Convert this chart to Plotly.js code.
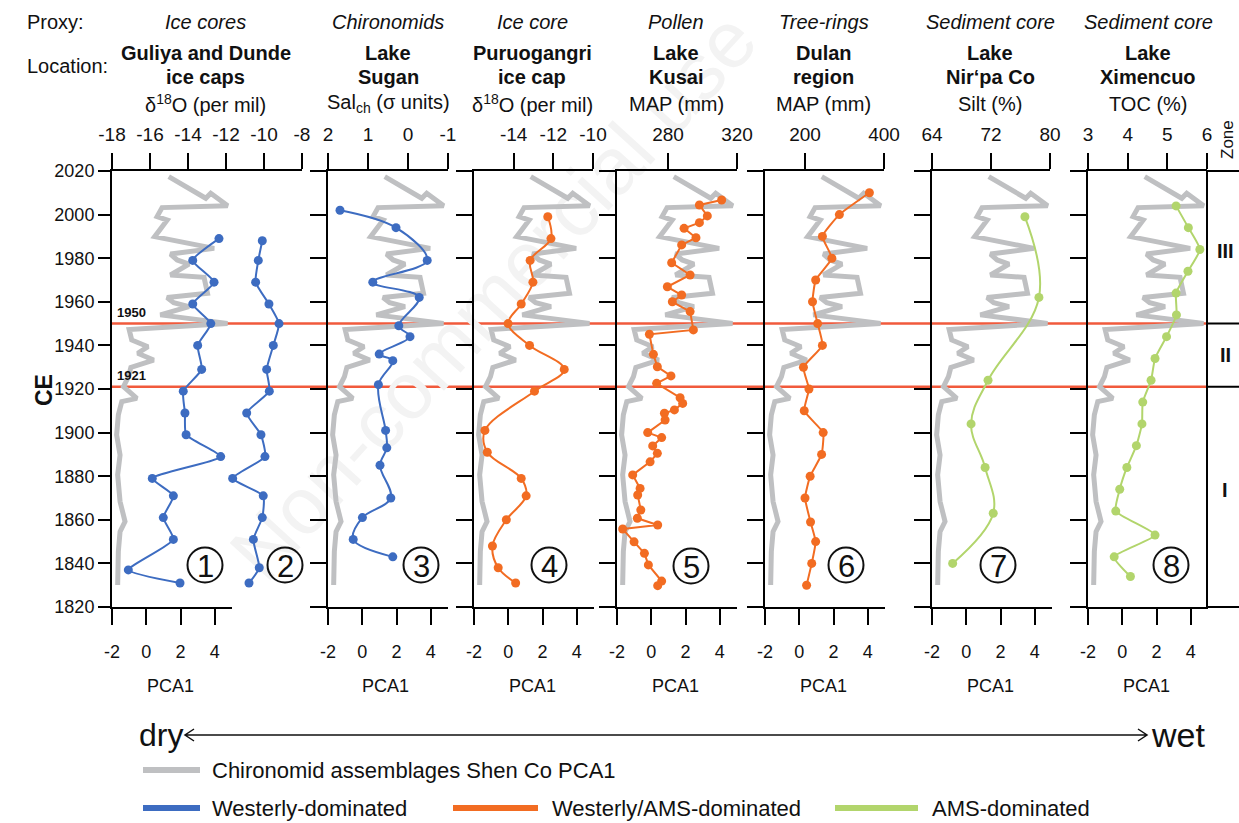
<!DOCTYPE html>
<html>
<head>
<meta charset="utf-8">
<script src="https://cdn.plot.ly/plotly-3.0.1.min.js"></script>
<style>html,body{margin:0;padding:0;background:#fff}#chart{width:1239px;height:823px}</style>
</head>
<body>
<div id="chart"></div>
<script>
// ---------------- DATA ----------------
const shenCoYear = [2017.4, 2010.5, 2007.5, 2009.8, 2004.1, 2003.2, 1999.1, 1997.5, 1989.9, 1984.5, 1981.9, 1979.2, 1977.3, 1972.3, 1971.2, 1963.9, 1962.0, 1959.6, 1957.8, 1954.0, 1952.0, 1950.1, 1947.3, 1942.5, 1939.4, 1936.4, 1933.3, 1929.9, 1925.7, 1921.1, 1915.7, 1914.2, 1908.1, 1898.9, 1889.7, 1880.6, 1868.4, 1859.2, 1854.6, 1845.4, 1830.1];
const shenCoPCA1 = [1.31, 2.88, 3.47, 3.76, 4.75, 0.92, 0.63, 1.22, 0.49, 3.96, 1.41, 1.8, 2.49, 1.41, 3.37, 3.57, 1.21, 1.6, 2.49, 0.82, 2.59, 4.74, -1.0, -0.85, 0.1, -0.5, 0.43, -0.9, -1.04, -1.33, -0.55, -1.43, -1.63, -1.73, -1.53, -1.67, -1.53, -1.24, -1.53, -1.63, -1.67];

const guliyaYear = [1989, 1979, 1969, 1959, 1950, 1940, 1929, 1919, 1909, 1899, 1889, 1879, 1871, 1861, 1851, 1837, 1831];
const guliyaD18O = [-12.37, -13.75, -12.63, -13.75, -12.8, -13.49, -13.28, -14.25, -14.16, -14.1, -12.28, -15.88, -14.77, -15.3, -14.77, -17.14, -14.42];

const dundeYear = [1988, 1979, 1969, 1959, 1950, 1940, 1929, 1919, 1909, 1899, 1889, 1879, 1871, 1861, 1851, 1838, 1831];
const dundeD18O = [-10.09, -10.3, -10.44, -9.74, -9.21, -9.51, -9.86, -9.72, -10.91, -10.16, -9.95, -11.65, -10.04, -10.09, -10.56, -10.25, -10.79];

const suganYear = [2002, 1994, 1979, 1969, 1962, 1949, 1944, 1936, 1933, 1922, 1901, 1893, 1885, 1870, 1861, 1851, 1843];
const suganSal = [1.7, 0.3, -0.48, 0.88, -0.28, 0.23, -0.05, 0.72, 0.38, 0.74, 0.56, 0.53, 0.7, 0.43, 1.14, 1.37, 0.38];

const puruYear = [1999, 1989, 1979, 1969, 1959, 1950, 1940, 1929, 1919, 1901, 1891, 1879, 1871, 1860, 1848, 1838, 1831];
const puruD18O = [-12.28, -12.12, -13.17, -13.03, -13.62, -14.28, -13.2, -11.45, -12.95, -15.45, -15.33, -13.62, -13.37, -14.37, -15.07, -14.78, -13.9];

const kusaiYear = [2006.7, 2004.4, 1999.4, 1996.3, 1993.7, 1989.4, 1986.1, 1977.9, 1972.3, 1966.9, 1963.1, 1960.0, 1955.5, 1947.1, 1945.1, 1935.9, 1930.2, 1926.0, 1922.6, 1916.0, 1913.4, 1910.4, 1908.9, 1905.8, 1900.0, 1897.7, 1893.9, 1890.5, 1886.6, 1880.6, 1874.4, 1871.4, 1864.5, 1860.7, 1857.6, 1855.8, 1849.9, 1844.6, 1839.3, 1831.9, 1829.8];
const kusaiMAP = [311.1, 298.2, 302.8, 298.2, 289.3, 296.2, 287.9, 282.1, 292.8, 279.6, 287.9, 282.5, 292.8, 294.7, 269.2, 271.5, 273.8, 281.7, 273.4, 287.0, 288.5, 283.7, 277.9, 278.3, 268.2, 276.3, 271.1, 273.8, 269.6, 259.5, 263.8, 262.4, 264.2, 262.2, 274.0, 253.7, 260.3, 266.3, 268.6, 276.3, 274.0];

const dulanYear = [2010, 2000, 1990, 1980, 1970, 1960, 1950, 1940, 1930, 1920, 1910, 1900, 1890, 1880, 1870, 1859, 1850, 1840, 1830];
const dulanMAP = [363, 287, 244, 268, 227, 219, 232, 244, 196, 210, 198, 246, 242, 213, 200, 214, 227, 217, 204];

const nirpaYear = [1999, 1962, 1924, 1904, 1884, 1863, 1840];
const nirpaSilt = [76.6, 78.5, 71.6, 69.3, 71.2, 72.3, 66.8];

const ximenYear = [2004, 1994, 1984, 1974, 1964, 1954, 1944, 1934, 1924, 1914, 1904, 1894, 1884, 1874, 1864, 1853, 1843, 1834];
const ximenTOC = [5.22, 5.53, 5.82, 5.52, 5.22, 5.23, 4.98, 4.69, 4.59, 4.38, 4.36, 4.22, 3.98, 3.8, 3.7, 4.69, 3.66, 4.07];

const yearTicks = [1820, 1840, 1860, 1880, 1900, 1920, 1940, 1960, 1980, 2000, 2020];
const pcaTicks = [-2, 0, 2, 4];
const zoneBounds = [1950, 1921];

// ---------------- LAYOUT HELPERS ----------------
const W = 1239, H = 823;
const fx = p => p / W;
const fy = p => 1 - p / H;
const FONT = 'Liberation Sans, Arial, Helvetica, sans-serif';
const BLUE = '#3d6cc1', ORANGE = '#f26c22', GREEN = '#b2d56c', GRAY = '#bfc0c2', RED = '#f15a3c';
const Y_TOP = 171, Y_BOT = 607;

const panels = [
  {left: 112, topW: 190, topRange: [-18, -8], topTicks: [-18, -16, -14, -12, -10, -8], color: BLUE, smooth: 0.5,
   series: [[guliyaD18O, guliyaYear], [dundeD18O, dundeYear]],
   proxy: 'Ice cores', loc: ['Guliya and Dunde', 'ice caps'], unit: 'δ<sup>18</sup>O (per mil)', hx: 206},
  {left: 328, topW: 120, topRange: [2, -1], topTicks: [2, 1, 0, -1], color: BLUE, smooth: 1.0,
   series: [[suganSal, suganYear]],
   proxy: 'Chironomids', loc: ['Lake', 'Sugan'], unit: 'Sal<sub>ch</sub> (σ units)', hx: 388},
  {left: 474, topW: 119, topRange: [-16, -10], topTicks: [-14, -12, -10], color: ORANGE, smooth: 1.0,
   series: [[puruD18O, puruYear]],
   proxy: 'Ice core', loc: ['Puruogangri', 'ice cap'], unit: 'δ<sup>18</sup>O (per mil)', hx: 532},
  {left: 617, topW: 120, topRange: [250.4, 320], topTicks: [280, 320], color: ORANGE, smooth: 0,
   series: [[kusaiMAP, kusaiYear]],
   proxy: 'Pollen', loc: ['Lake', 'Kusai'], unit: 'MAP (mm)', hx: 676},
  {left: 765, topW: 119, topRange: [98.7, 400], topTicks: [200, 400], color: ORANGE, smooth: 0.4,
   series: [[dulanMAP, dulanYear]],
   proxy: 'Tree-rings', loc: ['Dulan', 'region'], unit: 'MAP (mm)', hx: 824},
  {left: 932, topW: 118, topRange: [64, 80], topTicks: [64, 72, 80], color: GREEN, smooth: 1.1,
   series: [[nirpaSilt, nirpaYear]],
   proxy: 'Sediment core', loc: ['Lake', 'Nir‘pa Co'], unit: 'Silt (%)', hx: 990},
  {left: 1088, topW: 119, topRange: [3, 6], topTicks: [3, 4, 5, 6], color: GREEN, smooth: 0.5,
   series: [[ximenTOC, ximenYear]],
   proxy: 'Sediment core', loc: ['Lake', 'Ximencuo'], unit: 'TOC (%)', hx: 1148}
];
const digitPos = [[205, 565], [285, 565], [421, 565], [549, 565], [691, 566], [846, 565], [998, 565], [1171, 565]];
const digits = ['1', '2', '3', '4', '5', '6', '7', '8'];

const traces = [];
const layout = {
  width: W, height: H,
  margin: {l: 0, r: 0, t: 0, b: 0},
  paper_bgcolor: '#ffffff', plot_bgcolor: 'rgba(0,0,0,0)',
  showlegend: false,
  font: {family: FONT, color: '#111', size: 18},
  shapes: [], annotations: []
};

function ann(x, y, text, o) {
  return Object.assign({xref: 'paper', yref: 'paper', x: fx(x), y: fy(y), text: text, showarrow: false,
    xanchor: 'center', yanchor: 'middle', font: {family: FONT, size: 20, color: '#111'}}, o || {});
}

panels.forEach((p, i) => {
  const yName = i === 0 ? 'yaxis' : 'yaxis' + (i + 1);
  const yId = i === 0 ? 'y' : 'y' + (i + 1);
  const xbN = 2 * i + 1, xtN = 2 * i + 2;
  const xbName = xbN === 1 ? 'xaxis' : 'xaxis' + xbN;
  const xbId = xbN === 1 ? 'x' : 'x' + xbN;
  const xtName = 'xaxis' + xtN, xtId = 'x' + xtN;

  layout[yName] = {
    domain: [fy(Y_BOT), fy(Y_TOP)], range: [1820, 2020], anchor: xbId, side: 'left',
    showline: true, linecolor: '#000', linewidth: 2, ticks: 'outside', ticklen: i === 0 ? 12 : 16, tickwidth: 2, tickcolor: '#000',
    tickvals: yearTicks, showticklabels: i === 0, tickfont: {size: 18, family: FONT, color: '#111'},
    ticklabelstandoff: 0,
    showgrid: false, zeroline: false, fixedrange: true
  };
  layout[xbName] = {
    domain: [fx(p.left), fx(p.left + 120)], range: [-2, 5], anchor: yId, side: 'bottom',
    showline: true, linecolor: '#000', linewidth: 2, ticks: 'outside', ticklen: 16, tickwidth: 2, tickcolor: '#000',
    tickvals: pcaTicks, ticktext: pcaTicks.map(String), tickfont: {size: 18, family: FONT, color: '#111'},
    ticklabelstandoff: 11, showgrid: false, zeroline: false, fixedrange: true
  };
  layout[xtName] = {
    domain: [fx(p.left), fx(p.left + p.topW)], range: p.topRange, anchor: yId, side: 'top',
    showline: true, linecolor: '#000', linewidth: 2, ticks: 'outside', ticklen: 16, tickwidth: 2, tickcolor: '#000',
    tickvals: p.topTicks, ticktext: p.topTicks.map(String), tickfont: {size: 19, family: FONT, color: '#111'},
    ticklabelstandoff: 4, showgrid: false, zeroline: false, fixedrange: true
  };

  traces.push({x: shenCoPCA1, y: shenCoYear, xaxis: xbId, yaxis: yId, mode: 'lines',
    line: {color: GRAY, width: 5}, hoverinfo: 'skip'});
  p.series.forEach(s => {
    traces.push({x: s[0], y: s[1], xaxis: xtId, yaxis: yId, mode: 'lines+markers',
      line: {color: p.color, width: 2, shape: p.smooth > 0 ? 'spline' : 'linear', smoothing: p.smooth || undefined},
      marker: {color: p.color, size: 9}, cliponaxis: false, hoverinfo: 'skip'});
  });

  // header
  layout.annotations.push(ann(p.hx, 22, '<i>' + p.proxy + '</i>'));
  layout.annotations.push(ann(p.hx, 53, '<b>' + p.loc[0] + '</b>'));
  layout.annotations.push(ann(p.hx, 77, '<b>' + p.loc[1] + '</b>'));
  layout.annotations.push(ann(p.hx, 104, p.unit));
  layout.annotations.push(ann(p.left + 58, 686, 'PCA1', {font: {family: FONT, size: 18, color: '#111'}}));
});

layout.annotations.push(ann(25, 22, 'Proxy:', {xanchor: 'left'}));
layout.annotations.push(ann(25, 66, 'Location:', {xanchor: 'left'}));
layout.annotations.push(ann(44, 390, '<b>CE</b>', {textangle: -90, font: {family: FONT, size: 23, color: '#111'}}));

// zone boundaries (red lines)
zoneBounds.forEach(yv => {
  layout.shapes.push({type: 'line', xref: 'paper', yref: 'y', x0: fx(112), x1: fx(1207), y0: yv, y1: yv,
    line: {color: RED, width: 2.5}, layer: 'below'});
  layout.shapes.push({type: 'line', xref: 'paper', yref: 'y', x0: fx(1207), x1: fx(1250), y0: yv, y1: yv,
    line: {color: '#000', width: 2}});
  layout.annotations.push({xref: 'paper', yref: 'y', x: fx(115), y: yv, yshift: 2, text: '<b>' + yv + '</b>',
    showarrow: false, xanchor: 'left', yanchor: 'bottom', font: {family: FONT, size: 13, color: '#111'}});
});
// zone column
layout.shapes.push({type: 'rect', xref: 'paper', yref: 'paper', x0: fx(1207), x1: fx(1252), y0: fy(Y_BOT), y1: fy(Y_TOP),
  line: {color: '#000', width: 2}});
layout.annotations.push(ann(1225, 251, '<b>III</b>', {font: {family: FONT, size: 20, color: '#111'}}));
layout.annotations.push(ann(1225, 355, '<b>II</b>', {font: {family: FONT, size: 20, color: '#111'}}));
layout.annotations.push(ann(1225, 490, '<b>I</b>', {font: {family: FONT, size: 20, color: '#111'}}));
layout.annotations.push(ann(1228, 140, 'Zone', {textangle: -90, font: {family: FONT, size: 17, color: '#111'}}));

// circled numbers
digitPos.forEach((d, k) => {
  const r = 17.5;
  layout.shapes.push({type: 'circle', xref: 'paper', yref: 'paper', x0: fx(d[0] - r), x1: fx(d[0] + r),
    y0: fy(d[1] + r), y1: fy(d[1] - r), line: {color: '#111', width: 2}});
  layout.annotations.push(ann(d[0], d[1] + 1, digits[k], {font: {family: FONT, size: 31, color: '#111'}}));
});

// dry <-> wet arrow
const ay = 735;
const P = (x, y) => fx(x) + ',' + fy(y);
layout.shapes.push({type: 'path', xref: 'paper', yref: 'paper',
  path: 'M' + P(185, ay) + ' L' + P(1147, ay) + ' M' + P(194, ay - 6) + ' L' + P(185, ay) + ' L' + P(194, ay + 6) +
        ' M' + P(1138, ay - 6) + ' L' + P(1147, ay) + ' L' + P(1138, ay + 6),
  line: {color: '#111', width: 1.5}});
layout.annotations.push(ann(137, ay, 'dry', {xanchor: 'left', font: {family: FONT, size: 32, color: '#111'}}));
layout.annotations.push(ann(1149, ay, 'wet', {xanchor: 'left', font: {family: FONT, size: 34, color: '#111'}}));

// legend
const legendItems = [
  [143, 200, 770, GRAY, 'Chironomid assemblages Shen Co PCA1', 210],
  [143, 200, 808, BLUE, 'Westerly-dominated', 210],
  [453, 538, 808, ORANGE, 'Westerly/AMS-dominated', 550],
  [835, 918, 808, GREEN, 'AMS-dominated', 930]
];
legendItems.forEach(it => {
  layout.shapes.push({type: 'line', xref: 'paper', yref: 'paper', x0: fx(it[0]), x1: fx(it[1]), y0: fy(it[2]), y1: fy(it[2]),
    line: {color: it[3], width: 6}});
  layout.annotations.push(ann(it[5], it[2], it[4], {xanchor: 'left', font: {family: FONT, size: 22, color: '#111'}}));
});

// faint watermark
layout.shapes.push({type: 'line', xref: 'paper', yref: 'paper', x0: fx(255), y0: fy(615), x1: fx(790), y1: fy(30),
  line: {color: 'rgba(0,0,0,0)', width: 1}, layer: 'below',
  label: {text: 'Non-commercial use', textangle: 'auto', textposition: 'middle',
    font: {family: FONT, size: 80, color: '#f3f3f3'}}});

Plotly.newPlot('chart', traces, layout, {staticPlot: true, displayModeBar: false});
</script>
</body>
</html>
